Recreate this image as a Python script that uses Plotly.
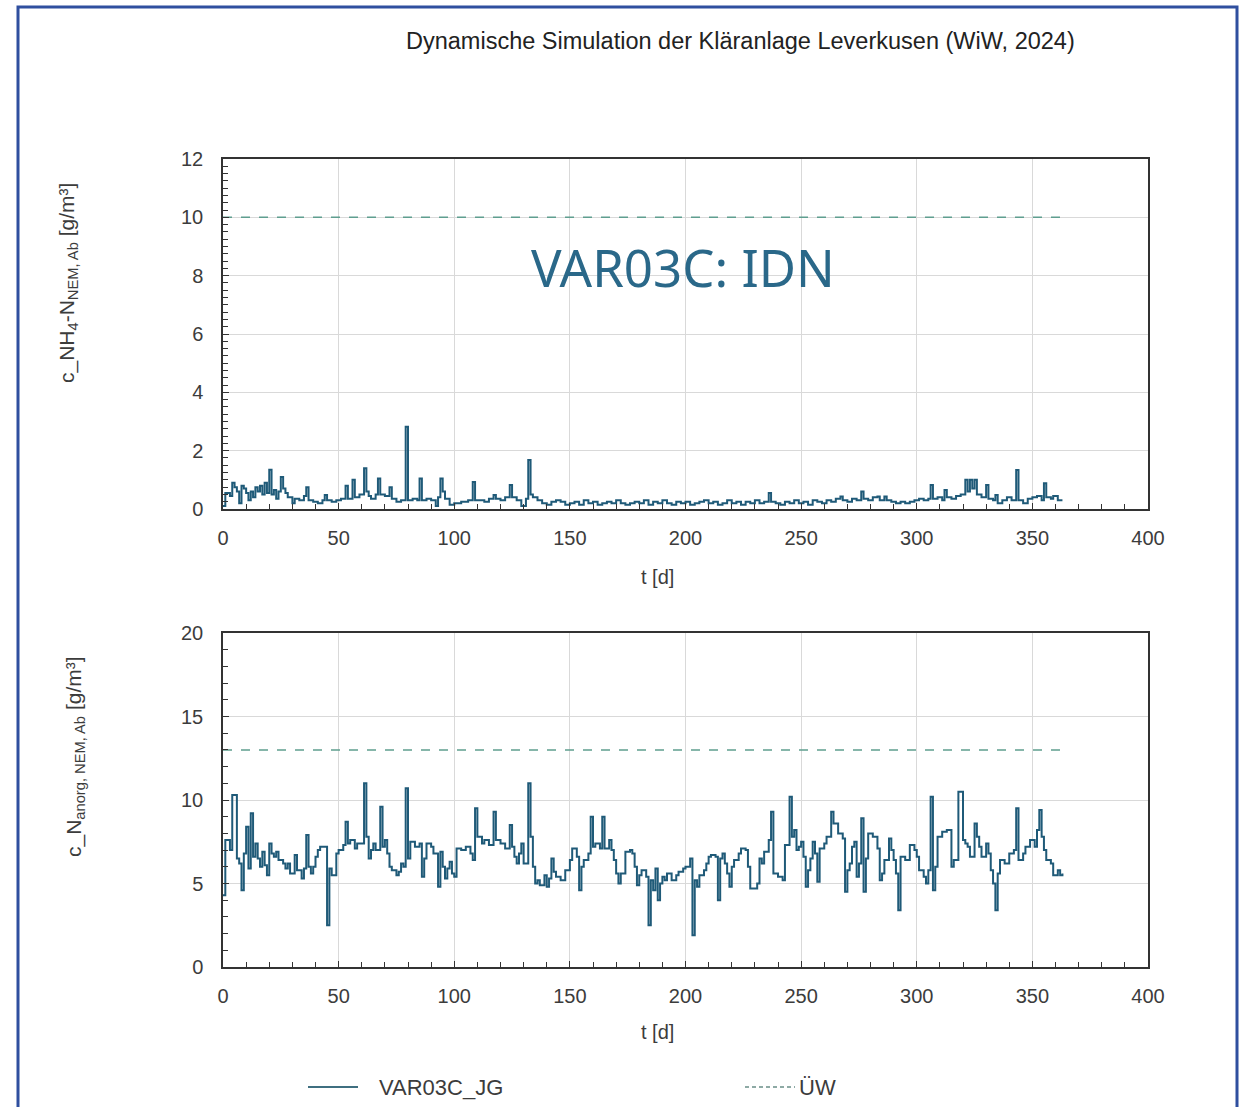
import plotly.graph_objects as go

# ---------------- data ----------------
TITLE = "Dynamische Simulation der Kläranlage Leverkusen (WiW, 2024)"
VARIANT = "VAR03C: IDN"
SERIES_NAME = "VAR03C_JG"
LIMIT_NAME = "ÜW"

X_TICKS = [0, 50, 100, 150, 200, 250, 300, 350, 400]
NH4_TICKS = [0, 2, 4, 6, 8, 10, 12]
NANORG_TICKS = [0, 5, 10, 15, 20]

UW_T = [0, 363]
UW_NH4 = [10, 10]
UW_NANORG = [13, 13]

NH4_POINTS = [
    (0, 0.1), (1, 0.55), (3, 0.45), (4, 0.9), (5, 0.75), (6, 0.6), (7, 0.2), (8, 0.8), (9, 0.7),
    (10, 0.55), (11, 0.3), (12, 0.6), (13, 0.4), (14, 0.75), (15, 0.6), (16, 0.8), (17, 0.5),
    (18, 0.9), (19, 0.55), (20, 1.35), (21, 0.5), (22, 0.65), (23, 0.35), (24, 0.6), (25, 1.1),
    (26, 0.7), (27, 0.55), (28, 0.4), (30, 0.2), (31, 0.35), (33, 0.3), (35, 0.45), (36, 0.75),
    (37, 0.3), (39, 0.25), (41, 0.2), (43, 0.3), (44, 0.48), (45, 0.3), (47, 0.25), (49, 0.3),
    (51, 0.35), (53, 0.8), (54, 0.35), (56, 1.0), (57, 0.4), (59, 0.5), (61, 1.4), (62, 0.6),
    (63, 0.45), (64, 0.35), (66, 0.5), (67, 1.05), (68, 0.5), (70, 0.45), (72, 0.75), (73, 0.35),
    (75, 0.25), (77, 0.3), (79, 2.82), (80, 0.3), (82, 0.35), (84, 0.3), (85, 1.05), (86, 0.3),
    (88, 0.35), (90, 0.3), (92, 0.1), (93, 0.4), (94, 1.05), (95, 0.6), (96, 0.35), (98, 0.15),
    (100, 0.2), (103, 0.25), (106, 0.3), (108, 0.93), (109, 0.3), (111, 0.3), (113, 0.25),
    (115, 0.35), (117, 0.48), (118, 0.35), (120, 0.3), (122, 0.4), (124, 0.82), (125, 0.4),
    (127, 0.3), (129, 0.1), (131, 0.35), (132, 1.68), (133, 0.5), (134, 0.4), (136, 0.3),
    (138, 0.2), (140, 0.15), (142, 0.25), (144, 0.3), (146, 0.25), (148, 0.15), (150, 0.2),
    (152, 0.25), (154, 0.15), (156, 0.3), (158, 0.2), (160, 0.25), (162, 0.15), (164, 0.2),
    (166, 0.25), (168, 0.2), (170, 0.3), (172, 0.2), (174, 0.15), (176, 0.2), (178, 0.25),
    (180, 0.2), (182, 0.3), (184, 0.15), (186, 0.25), (188, 0.2), (190, 0.3), (192, 0.2),
    (194, 0.15), (196, 0.25), (198, 0.2), (200, 0.25), (202, 0.15), (204, 0.2), (206, 0.25),
    (208, 0.3), (210, 0.2), (212, 0.25), (214, 0.15), (216, 0.2), (218, 0.3), (220, 0.2),
    (222, 0.25), (224, 0.15), (226, 0.25), (228, 0.2), (230, 0.3), (232, 0.2), (234, 0.25),
    (236, 0.55), (237, 0.25), (239, 0.2), (241, 0.15), (243, 0.25), (245, 0.2), (247, 0.3),
    (249, 0.2), (251, 0.25), (253, 0.15), (255, 0.3), (257, 0.25), (259, 0.2), (261, 0.3),
    (263, 0.25), (265, 0.35), (267, 0.43), (268, 0.3), (270, 0.25), (272, 0.35), (274, 0.3),
    (276, 0.6), (277, 0.35), (279, 0.3), (281, 0.4), (283, 0.43), (284, 0.3), (286, 0.43),
    (287, 0.3), (289, 0.25), (291, 0.2), (293, 0.25), (295, 0.2), (297, 0.25), (299, 0.3),
    (301, 0.35), (303, 0.3), (305, 0.35), (306, 0.82), (307, 0.35), (309, 0.4), (311, 0.3),
    (312, 0.65), (313, 0.4), (315, 0.35), (317, 0.45), (319, 0.5), (321, 1.0), (322, 0.6),
    (323, 1.0), (324, 0.7), (325, 1.0), (326, 0.5), (328, 0.4), (330, 0.82), (331, 0.35),
    (333, 0.3), (334, 0.48), (335, 0.2), (337, 0.3), (339, 0.4), (341, 0.3), (343, 1.34),
    (344, 0.3), (346, 0.2), (348, 0.35), (350, 0.4), (352, 0.45), (354, 0.3), (355, 0.88),
    (356, 0.4), (358, 0.35), (359, 0.45), (361, 0.3), (363, 0.3),
]

NANORG_POINTS = [
    (0, 4.3), (1, 7.6), (3, 7.0), (4, 10.3), (6, 6.5), (7, 6.2), (8, 4.6), (9, 6.8), (10, 8.4),
    (11, 5.9), (12, 9.2), (13, 6.6), (14, 7.4), (15, 6.5), (16, 6.0), (17, 6.9), (18, 6.1),
    (19, 5.5), (20, 7.4), (21, 6.8), (22, 6.6), (23, 6.9), (24, 6.4), (26, 6.2), (27, 5.9),
    (28, 6.2), (29, 5.6), (31, 6.7), (32, 5.8), (34, 5.3), (35, 5.9), (36, 7.9), (37, 6.0),
    (38, 5.6), (39, 6.0), (40, 6.6), (41, 7.0), (42, 7.2), (45, 2.5), (46, 5.9), (47, 5.5),
    (49, 6.8), (50, 7.0), (52, 7.3), (53, 8.7), (54, 7.4), (55, 7.6), (57, 7.1), (58, 7.4),
    (61, 11.0), (62, 7.8), (63, 6.5), (64, 7.0), (65, 7.4), (66, 7.0), (68, 9.6), (69, 7.2),
    (70, 7.6), (71, 6.8), (72, 6.0), (73, 5.8), (75, 5.5), (76, 5.7), (77, 6.2), (78, 6.0),
    (79, 10.7), (80, 6.5), (81, 7.5), (83, 7.2), (85, 7.4), (86, 5.4), (87, 6.5), (88, 7.4),
    (90, 7.2), (91, 6.8), (93, 4.8), (94, 6.9), (95, 6.0), (96, 5.3), (97, 5.9), (98, 6.3),
    (99, 5.6), (100, 5.4), (101, 7.1), (103, 7.0), (105, 7.2), (107, 6.8), (108, 6.4),
    (109, 9.5), (110, 7.8), (112, 7.4), (113, 7.6), (115, 7.3), (117, 9.3), (118, 7.6),
    (120, 7.4), (122, 7.1), (124, 8.5), (125, 7.2), (126, 6.6), (127, 6.2), (128, 6.8),
    (129, 7.4), (130, 6.2), (132, 11.0), (133, 7.8), (134, 6.0), (135, 5.0), (136, 5.2),
    (137, 4.9), (139, 5.5), (140, 4.8), (141, 5.3), (142, 6.5), (143, 5.7), (144, 5.4),
    (146, 5.2), (148, 5.8), (150, 6.4), (151, 7.1), (153, 6.6), (154, 4.6), (155, 6.0),
    (156, 6.4), (158, 6.8), (159, 9.0), (160, 7.2), (161, 7.4), (163, 7.1), (164, 9.0),
    (165, 7.1), (167, 7.6), (168, 7.0), (169, 6.4), (170, 5.6), (171, 5.0), (172, 5.6),
    (174, 6.9), (176, 7.0), (177, 6.8), (178, 6.0), (179, 4.9), (180, 5.5), (181, 5.8),
    (183, 5.4), (184, 2.5), (185, 5.2), (186, 4.6), (187, 5.9), (188, 4.0), (189, 5.0),
    (190, 5.4), (191, 5.2), (192, 5.6), (194, 5.2), (196, 5.5), (197, 5.7), (199, 5.9),
    (200, 6.0), (202, 6.5), (203, 1.9), (204, 5.2), (205, 4.8), (206, 5.5), (208, 5.8),
    (209, 6.2), (210, 6.6), (211, 6.7), (213, 6.6), (214, 4.0), (215, 6.5), (216, 6.8),
    (217, 6.2), (218, 5.6), (219, 4.8), (220, 6.0), (221, 6.4), (223, 6.8), (224, 7.1),
    (226, 7.0), (227, 6.0), (228, 4.7), (231, 5.0), (232, 6.5), (233, 6.2), (234, 6.9),
    (236, 7.6), (237, 9.3), (238, 5.6), (240, 5.4), (242, 5.2), (243, 7.3), (245, 10.2),
    (246, 7.8), (247, 8.2), (248, 7.0), (249, 7.2), (250, 7.5), (251, 6.6), (252, 4.8),
    (253, 5.8), (254, 6.5), (255, 7.5), (256, 6.8), (257, 5.1), (258, 7.1), (260, 7.4),
    (261, 7.8), (263, 9.3), (264, 8.6), (266, 8.0), (268, 7.7), (269, 4.5), (270, 5.8),
    (271, 6.2), (272, 7.2), (273, 7.5), (274, 5.4), (275, 6.2), (276, 8.9), (277, 4.5),
    (278, 6.5), (279, 8.0), (281, 7.8), (283, 7.1), (284, 5.2), (285, 5.6), (286, 6.4),
    (288, 7.7), (289, 7.0), (290, 6.4), (291, 5.6), (292, 3.4), (293, 6.6), (295, 6.4),
    (297, 7.3), (299, 7.0), (300, 6.6), (301, 5.8), (303, 5.4), (304, 5.0), (305, 5.8),
    (306, 10.2), (307, 4.6), (308, 6.0), (309, 7.8), (311, 8.1), (313, 8.2), (315, 6.0),
    (316, 6.4), (318, 10.5), (320, 7.6), (321, 7.4), (322, 7.2), (323, 6.6), (325, 8.6),
    (326, 7.8), (327, 7.2), (328, 6.6), (330, 7.4), (331, 6.8), (332, 5.8), (333, 5.0),
    (334, 3.4), (335, 5.6), (336, 6.4), (338, 6.2), (340, 6.8), (342, 7.0), (343, 9.5),
    (344, 6.4), (346, 6.8), (347, 7.2), (349, 7.6), (351, 7.2), (352, 8.2), (353, 9.4),
    (354, 7.8), (355, 7.0), (356, 6.4), (358, 6.2), (359, 5.5), (361, 5.8), (362, 5.5),
    (363, 5.6),
]

NH4_T = [p[0] for p in NH4_POINTS]
NH4_V = [p[1] for p in NH4_POINTS]
NAN_T = [p[0] for p in NANORG_POINTS]
NAN_V = [p[1] for p in NANORG_POINTS]

# ---------------- style ----------------
W, H = 1241, 1107
OFF = 0                      # page offset (body margin removed by post_script)
L, R = 223, 1148             # plot area in screenshot pixels
LINE_COLOR = "#1f5a78"
UW_COLOR = "#5f9e8f"
FONT = "Liberation Sans"
TXT = "#3c3c3c"
ML = L - OFF
MR = W - ML - (R - L)


def px_x(x):
    return (x - OFF - ML) / (R - L)


def px_y(y):
    return 1 - (y - OFF) / H


fig = go.Figure()

fig.add_trace(go.Scatter(x=NH4_T, y=NH4_V, mode="lines", line=dict(color=LINE_COLOR, width=2, shape="hv"),
                         name=SERIES_NAME, xaxis="x", yaxis="y"))
fig.add_trace(go.Scatter(x=UW_T, y=UW_NH4, mode="lines", line=dict(color=UW_COLOR, width=1.5, dash="dash"),
                         name=LIMIT_NAME, xaxis="x", yaxis="y"))
fig.add_trace(go.Scatter(x=NAN_T, y=NAN_V, mode="lines", line=dict(color=LINE_COLOR, width=2, shape="hv"),
                         name=SERIES_NAME, xaxis="x2", yaxis="y2"))
fig.add_trace(go.Scatter(x=UW_T, y=UW_NANORG, mode="lines", line=dict(color=UW_COLOR, width=1.5, dash="dash"),
                         name=LIMIT_NAME, xaxis="x2", yaxis="y2"))

axis_common = dict(showline=True, mirror=True, linecolor="#333333", linewidth=1.5,
                   showgrid=True, gridcolor="#d9d9d9", gridwidth=1, zeroline=False,
                   ticks="inside", ticklen=6, tickcolor="#333333",
                   tickfont=dict(family=FONT, size=20, color=TXT))

xaxis = dict(axis_common, domain=[0, 1], range=[0, 400], tickvals=X_TICKS,
             minor=dict(dtick=10, ticks="inside", ticklen=5, tickcolor="#333333", showgrid=False),
             ticklabelstandoff=10)

fig.update_layout(
    width=W, height=H,
    margin=dict(l=ML, r=MR, t=0, b=0, autoexpand=False),
    paper_bgcolor="white", plot_bgcolor="white",
    showlegend=False,
    xaxis=dict(xaxis, anchor="y"),
    yaxis=dict(axis_common, domain=[px_y(509), px_y(159)], range=[0, 12], tickvals=NH4_TICKS,
               minor=dict(dtick=0.25, ticks="inside", ticklen=5, tickcolor="#333333", showgrid=False),
               ticklabelstandoff=14, anchor="x"),
    xaxis2=dict(xaxis, anchor="y2"),
    yaxis2=dict(axis_common, domain=[px_y(967), px_y(633)], range=[0, 20], tickvals=NANORG_TICKS,
                minor=dict(dtick=1, ticks="inside", ticklen=5, tickcolor="#333333", showgrid=False),
                ticklabelstandoff=14, anchor="x2"),
)

ann = [
    dict(text=TITLE, x=px_x(740), y=px_y(41), font=dict(family=FONT, size=23.5, color="#222222")),
    dict(text=VARIANT, x=px_x(683), y=px_y(267), font=dict(family="Noto Sans", size=51, color="#2a6889")),
    dict(text="t [d]", x=px_x(657), y=px_y(577), font=dict(family=FONT, size=20, color=TXT)),
    dict(text="t [d]", x=px_x(657), y=px_y(1032), font=dict(family=FONT, size=20, color=TXT)),
    dict(text="c_NH<sub>4</sub>-N<sub>NEM, Ab</sub> [g/m³]", x=px_x(68), y=px_y(283), textangle=-90,
         font=dict(family=FONT, size=21, color=TXT)),
    dict(text="c_N<sub>anorg, NEM, Ab</sub> [g/m³]", x=px_x(75), y=px_y(757), textangle=-90,
         font=dict(family=FONT, size=21, color=TXT)),
    # legend texts
    dict(text=SERIES_NAME, x=px_x(377), y=px_y(1087), xanchor="left",
         font=dict(family=FONT, size=22, color=TXT)),
    dict(text=LIMIT_NAME, x=px_x(797), y=px_y(1087), xanchor="left",
         font=dict(family=FONT, size=22, color=TXT)),
]
for a in ann:
    a.setdefault("xanchor", "center")
    a.update(xref="paper", yref="paper", showarrow=False, yanchor="middle")
fig.update_layout(annotations=ann)

# legend symbols
fig.add_shape(type="line", xref="paper", yref="paper", x0=px_x(308), x1=px_x(358), y0=px_y(1087), y1=px_y(1087),
              line=dict(color="#3f6f80", width=2))
fig.add_shape(type="line", xref="paper", yref="paper", x0=px_x(745), x1=px_x(795), y0=px_y(1087), y1=px_y(1087),
              line=dict(color="#6a8f88", width=1.5, dash="4px,3px"))

# outer frame
fig.add_shape(type="rect", xref="paper", yref="paper", x0=px_x(18), x1=px_x(1237), y0=px_y(1125), y1=px_y(7),
              line=dict(color="#2f4f9f", width=3), fillcolor="rgba(0,0,0,0)", layer="above")

fig.write_html("out.html", config={"displayModeBar": False},
               post_script="document.body.style.margin='0px';document.body.style.overflow='hidden';")
